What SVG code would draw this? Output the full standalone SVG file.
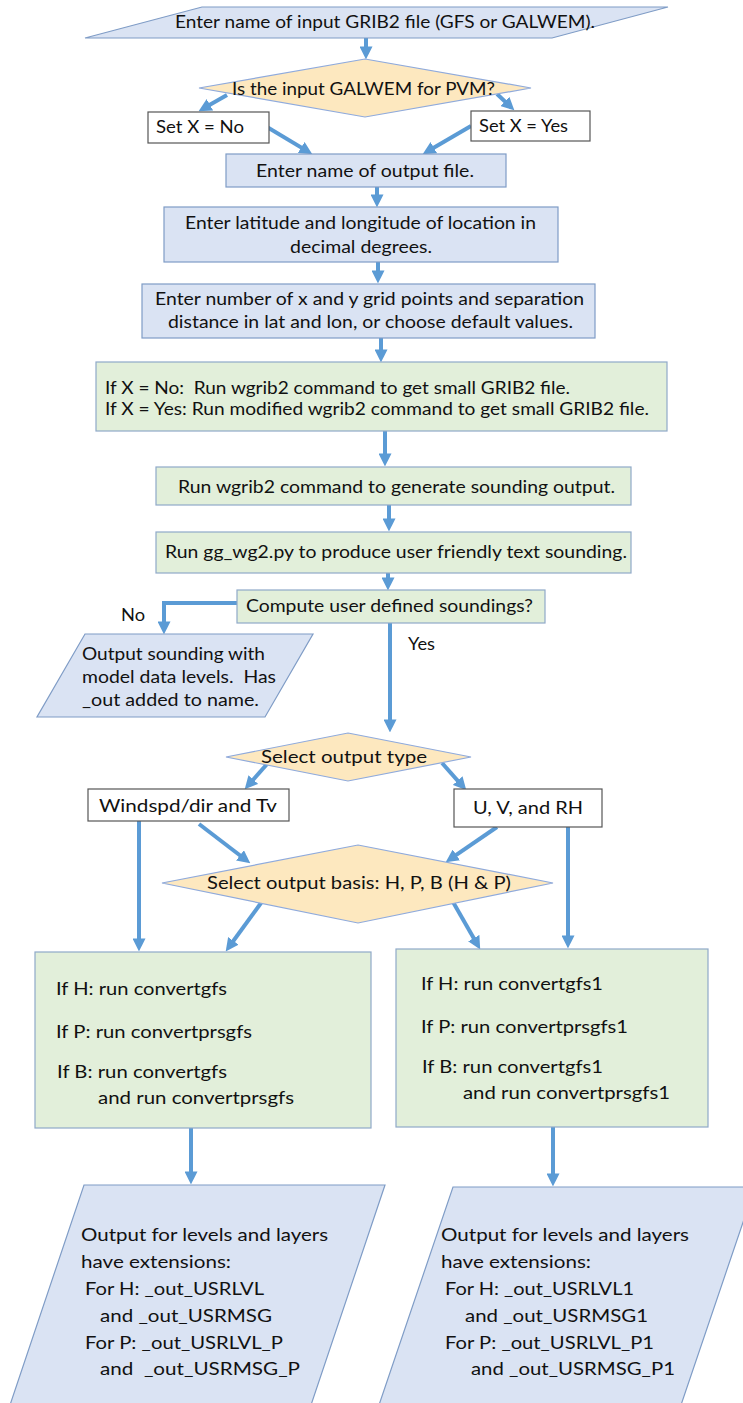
<svg xmlns="http://www.w3.org/2000/svg" width="743" height="1403" viewBox="0 0 743 1403">
<style>
text{font-family:Lato,"Liberation Sans",sans-serif;font-size:18px;fill:#111;white-space:pre}
.blue{fill:#dae3f3;stroke:#7f9cc6;stroke-width:1.2}
.green{fill:#e2efda;stroke:#8fa9c9;stroke-width:1.2}
.dia{fill:#fde8bf;stroke:#8faadc;stroke-width:1.2}
.white{fill:#fff;stroke:#555;stroke-width:1.2}
.c{fill:none;stroke:#5b9bd5;stroke-width:4;marker-end:url(#ah)}
</style>
<defs>
<marker id="ah" markerUnits="userSpaceOnUse" viewBox="0 0 12 12" markerWidth="13" markerHeight="13" refX="7" refY="6" orient="auto">
<path d="M0,0 L12,6 L0,12 z" fill="#5b9bd5"/>
</marker>
</defs>
<rect width="743" height="1403" fill="#fff"/>
<g id="connectors">
<line class="c" x1="366" y1="38" x2="366" y2="54"/>
<line class="c" x1="227" y1="95" x2="203.3" y2="108.5"/>
<line class="c" x1="497" y1="94" x2="510.4" y2="106.6"/>
<line class="c" x1="267" y1="127" x2="307.7" y2="151.4"/>
<line class="c" x1="471" y1="126" x2="427.3" y2="151.5"/>
<line class="c" x1="377" y1="187" x2="377" y2="202"/>
<line class="c" x1="378" y1="262" x2="378" y2="278"/>
<line class="c" x1="381" y1="338" x2="381" y2="357"/>
<line class="c" x1="385" y1="431" x2="385" y2="461"/>
<line class="c" x1="389" y1="505" x2="389" y2="526"/>
<line class="c" x1="388" y1="573" x2="388" y2="585"/>
<polyline class="c" points="237,603 164,603 164,629"/>
<line class="c" x1="390" y1="623" x2="390" y2="727"/>
<line class="c" x1="268" y1="763" x2="248.3" y2="785.3"/>
<line class="c" x1="442" y1="763" x2="462.7" y2="786.3"/>
<line class="c" x1="139" y1="821" x2="139" y2="946"/>
<line class="c" x1="199" y1="824" x2="246" y2="860"/>
<line class="c" x1="497" y1="827" x2="450.1" y2="859.2"/>
<line class="c" x1="568" y1="827" x2="568" y2="943"/>
<line class="c" x1="261" y1="903" x2="228.9" y2="947"/>
<line class="c" x1="453" y1="902" x2="477.5" y2="944.7"/>
<line class="c" x1="191" y1="1128" x2="191" y2="1179"/>
<line class="c" x1="553" y1="1127" x2="553" y2="1181"/>
</g>
<g id="n-input">
<polygon class="blue" points="202,7 668,7 552,38 85,38"/>
<text x="175" y="28" textLength="420" lengthAdjust="spacingAndGlyphs">Enter name of input GRIB2 file (GFS or GALWEM).</text>
</g>
<g id="n-galwem">
<polygon class="dia" points="365,59 531,88 365,117 199,88"/>
<text x="232" y="95" textLength="263" lengthAdjust="spacingAndGlyphs">Is the input GALWEM for PVM?</text>
</g>
<g id="n-setno">
<rect class="white" x="148" y="112" width="121" height="31"/>
<text x="156" y="133" textLength="88" lengthAdjust="spacingAndGlyphs">Set X = No</text>
</g>
<g id="n-setyes">
<rect class="white" x="471" y="111" width="119" height="30"/>
<text x="479" y="132" textLength="89" lengthAdjust="spacingAndGlyphs">Set X = Yes</text>
</g>
<g id="n-outname">
<rect class="blue" x="226" y="154" width="280" height="33"/>
<text x="256" y="177" textLength="218" lengthAdjust="spacingAndGlyphs">Enter name of output file.</text>
</g>
<g id="n-latlon">
<rect class="blue" x="164" y="207" width="394" height="55"/>
<text x="185" y="229" textLength="351" lengthAdjust="spacingAndGlyphs">Enter latitude and longitude of location in</text>
<text x="290" y="253" textLength="142" lengthAdjust="spacingAndGlyphs">decimal degrees.</text>
</g>
<g id="n-grid">
<rect class="blue" x="142" y="284" width="453" height="54"/>
<text x="155" y="305" textLength="429" lengthAdjust="spacingAndGlyphs">Enter number of x and y grid points and separation</text>
<text x="168" y="328" textLength="405" lengthAdjust="spacingAndGlyphs">distance in lat and lon, or choose default values.</text>
</g>
<g id="n-wgrib">
<rect class="green" x="96" y="362" width="571" height="69"/>
<text x="105" y="394" textLength="465" lengthAdjust="spacingAndGlyphs">If X = No:  Run wgrib2 command to get small GRIB2 file.</text>
<text x="105" y="415" textLength="544" lengthAdjust="spacingAndGlyphs">If X = Yes: Run modified wgrib2 command to get small GRIB2 file.</text>
</g>
<g id="n-sounding">
<rect class="green" x="156" y="467" width="475" height="38"/>
<text x="178" y="493" textLength="437" lengthAdjust="spacingAndGlyphs">Run wgrib2 command to generate sounding output.</text>
</g>
<g id="n-ggwg2">
<rect class="green" x="156" y="532" width="475" height="41"/>
<text x="165" y="558" textLength="462" lengthAdjust="spacingAndGlyphs">Run gg_wg2.py to produce user friendly text sounding.</text>
</g>
<g id="n-compute">
<rect class="green" x="237" y="590" width="308" height="33"/>
<text x="246" y="612" textLength="287" lengthAdjust="spacingAndGlyphs">Compute user defined soundings?</text>
</g>
<g id="l-no"><text x="121" y="621" textLength="24" lengthAdjust="spacingAndGlyphs">No</text></g>
<g id="l-yes"><text x="408" y="650" textLength="27" lengthAdjust="spacingAndGlyphs">Yes</text></g>
<g id="n-modelout">
<polygon class="blue" points="85,634 313,634 265,717 37,717"/>
<text x="82" y="660" textLength="183" lengthAdjust="spacingAndGlyphs">Output sounding with</text>
<text x="82" y="683" textLength="194" lengthAdjust="spacingAndGlyphs">model data levels.  Has</text>
<text x="82" y="706" textLength="177" lengthAdjust="spacingAndGlyphs">_out added to name.</text>
</g>
<g id="n-type">
<polygon class="dia" points="348,733 471,757 348,781 226,757"/>
<text x="261" y="763" textLength="166" lengthAdjust="spacingAndGlyphs">Select output type</text>
</g>
<g id="n-windspd">
<rect class="white" x="88" y="789" width="201" height="32"/>
<text x="99" y="812" textLength="178" lengthAdjust="spacingAndGlyphs">Windspd/dir and Tv</text>
</g>
<g id="n-uvrh">
<rect class="white" x="454" y="789" width="148" height="38"/>
<text x="473" y="814" textLength="110" lengthAdjust="spacingAndGlyphs">U, V, and RH</text>
</g>
<g id="n-basis">
<polygon class="dia" points="358,845 553,883 358,923 162,883"/>
<text x="207" y="889" textLength="304" lengthAdjust="spacingAndGlyphs">Select output basis: H, P, B (H &amp; P)</text>
</g>
<g id="n-convleft">
<rect class="green" x="35" y="952" width="336" height="176"/>
<text x="56" y="995" textLength="171" lengthAdjust="spacingAndGlyphs">If H: run convertgfs</text>
<text x="56" y="1038" textLength="196" lengthAdjust="spacingAndGlyphs">If P: run convertprsgfs</text>
<text x="57" y="1078" textLength="170" lengthAdjust="spacingAndGlyphs">If B: run convertgfs</text>
<text x="98" y="1104" textLength="196" lengthAdjust="spacingAndGlyphs">and run convertprsgfs</text>
</g>
<g id="n-convright">
<rect class="green" x="396" y="949" width="312" height="178"/>
<text x="421" y="990" textLength="182" lengthAdjust="spacingAndGlyphs">If H: run convertgfs1</text>
<text x="421" y="1033" textLength="207" lengthAdjust="spacingAndGlyphs">If P: run convertprsgfs1</text>
<text x="422" y="1073" textLength="181" lengthAdjust="spacingAndGlyphs">If B: run convertgfs1</text>
<text x="463" y="1099" textLength="207" lengthAdjust="spacingAndGlyphs">and run convertprsgfs1</text>
</g>
<g id="n-outleft">
<polygon class="blue" points="84,1185 385,1185 311,1405 10,1405"/>
<text x="81" y="1241" textLength="247" lengthAdjust="spacingAndGlyphs">Output for levels and layers</text>
<text x="81" y="1268" textLength="150" lengthAdjust="spacingAndGlyphs">have extensions:</text>
<text x="85" y="1295" textLength="179" lengthAdjust="spacingAndGlyphs">For H: _out_USRLVL</text>
<text x="100" y="1322" textLength="172" lengthAdjust="spacingAndGlyphs">and _out_USRMSG</text>
<text x="85" y="1349" textLength="198" lengthAdjust="spacingAndGlyphs">For P: _out_USRLVL_P</text>
<text x="100" y="1375" textLength="200" lengthAdjust="spacingAndGlyphs">and  _out_USRMSG_P</text>
</g>
<g id="n-outright">
<polygon class="blue" points="453,1187 755,1187 681,1405 379,1405"/>
<text x="441" y="1241" textLength="248" lengthAdjust="spacingAndGlyphs">Output for levels and layers</text>
<text x="441" y="1268" textLength="150" lengthAdjust="spacingAndGlyphs">have extensions:</text>
<text x="445" y="1295" textLength="189" lengthAdjust="spacingAndGlyphs">For H: _out_USRLVL1</text>
<text x="465" y="1322" textLength="183" lengthAdjust="spacingAndGlyphs">and _out_USRMSG1</text>
<text x="445" y="1349" textLength="209" lengthAdjust="spacingAndGlyphs">For P: _out_USRLVL_P1</text>
<text x="471" y="1375" textLength="204" lengthAdjust="spacingAndGlyphs">and _out_USRMSG_P1</text>
</g>
</svg>
